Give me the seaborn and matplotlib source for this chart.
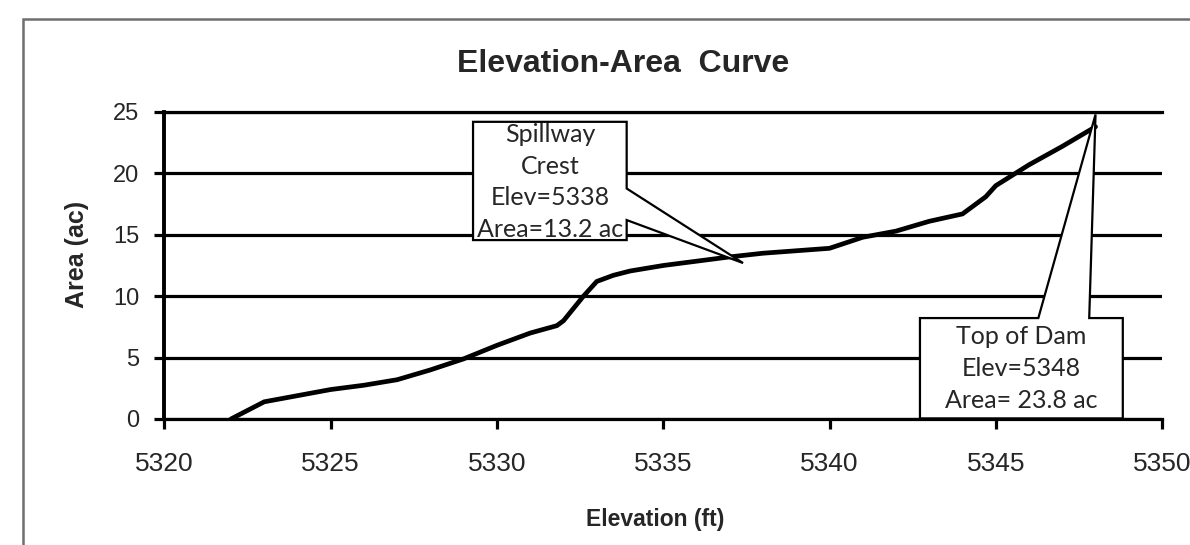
import numpy as np
import pandas as pd
import matplotlib.pyplot as plt
from matplotlib.patches import Polygon, Rectangle
import seaborn as sns

# elevation-area readings (ft, ac)
elevation = [5322, 5323, 5324, 5325, 5326, 5327, 5328, 5329, 5330, 5331, 5331.8,
             5332, 5332.6, 5333, 5333.5, 5334, 5335, 5336, 5337, 5338, 5339, 5340,
             5341, 5342, 5343, 5344, 5344.7, 5345, 5346, 5347, 5348]
area = [0.0, 1.4, 1.9, 2.4, 2.75, 3.2, 4.0, 4.9, 6.0, 7.0, 7.6,
        8.0, 10.0, 11.2, 11.7, 12.05, 12.5, 12.85, 13.2, 13.5, 13.7, 13.9,
        14.8, 15.3, 16.1, 16.7, 18.1, 19.0, 20.7, 22.2, 23.8]

x_ticks = [5320, 5325, 5330, 5335, 5340, 5345, 5350]
y_ticks = [0, 5, 10, 15, 20, 25]

spill_text = "Spillway\nCrest\nElev=5338\nArea=13.2 ac"
dam_text = "Top of Dam\nElev=5348\nArea= 23.8 ac"

df = pd.DataFrame({"Elevation": elevation, "Area": area})

sns.set_theme(style="white")
plt.rcParams["font.family"] = ["Liberation Sans", "DejaVu Sans"]

fig = plt.figure(figsize=(11.9, 5.45), dpi=100)
ax = fig.add_axes([0.1382, 0.2312, 0.8383, 0.5633])

# chart-area frame (cut off on the right and bottom like the scan)
fig.patches.append(Rectangle((0.0193, -0.2), 1.5, 0.2 + 0.965, transform=fig.transFigure,
                             fill=False, edgecolor="#6e6e6e", lw=1.8))

sns.lineplot(data=df, x="Elevation", y="Area", color="black", lw=3.4, ax=ax, zorder=3)

ax.set_xlim(5320, 5350)
ax.set_ylim(0, 25)
ax.set_xticks(x_ticks)
ax.set_yticks(y_ticks)
ax.grid(axis="y", color="black", lw=2.3)
ax.grid(axis="x", visible=False)
for side in ["left", "bottom", "top"]:
    ax.spines[side].set_color("black")
    ax.spines[side].set_linewidth(2.3)
ax.spines["right"].set_visible(False)
ax.spines["left"].set_linewidth(2.8)

ax.tick_params(axis="y", direction="out", length=7, width=2.3, color="black",
               labelsize=17, pad=11, left=True)
ax.tick_params(axis="x", direction="out", length=7, width=2.3, color="black",
               labelsize=19, pad=17, bottom=True)

fig.text(623 / 1190, 1 - 64 / 545, "Elevation-Area  Curve", ha="center", va="center",
         fontsize=23, fontweight="bold")
ax.set_xlabel("Elevation (ft)", fontsize=16.5, fontweight="bold")
ax.xaxis.label.set_va("center")
ax.xaxis.set_label_coords(0.4917, -0.327)
ax.set_ylabel("Area (ac)", fontsize=18, fontweight="bold")
ax.yaxis.label.set_va("center")
ax.yaxis.set_label_coords(-0.0877, 0.536)


# callout box with wedge pointing at the curve
def callout(points, text, cx, cy):
    poly = Polygon(points, closed=True, facecolor="white", edgecolor="black",
                   lw=1.6, zorder=5, clip_on=False)
    ax.add_patch(poly)
    t = ax.text(cx, cy, text, ha="center", va="center", fontsize=18,
                family=["Lato", "DejaVu Sans"], linespacing=1.46, zorder=6)
    t.set_clip_path(poly)


callout([(5329.28, 24.2), (5333.9, 24.2), (5333.9, 18.77), (5337.4, 12.7),
         (5333.9, 16.2), (5333.9, 14.57), (5329.28, 14.57)],
        spill_text, 5331.6, 19.3)
callout([(5342.72, 8.22), (5346.28, 8.22), (5348.0, 24.8), (5347.81, 8.22),
         (5348.82, 8.22), (5348.82, 0.05), (5342.72, 0.05)],
        dam_text, 5345.77, 4.1)

fig.savefig("out.png", dpi=100)
